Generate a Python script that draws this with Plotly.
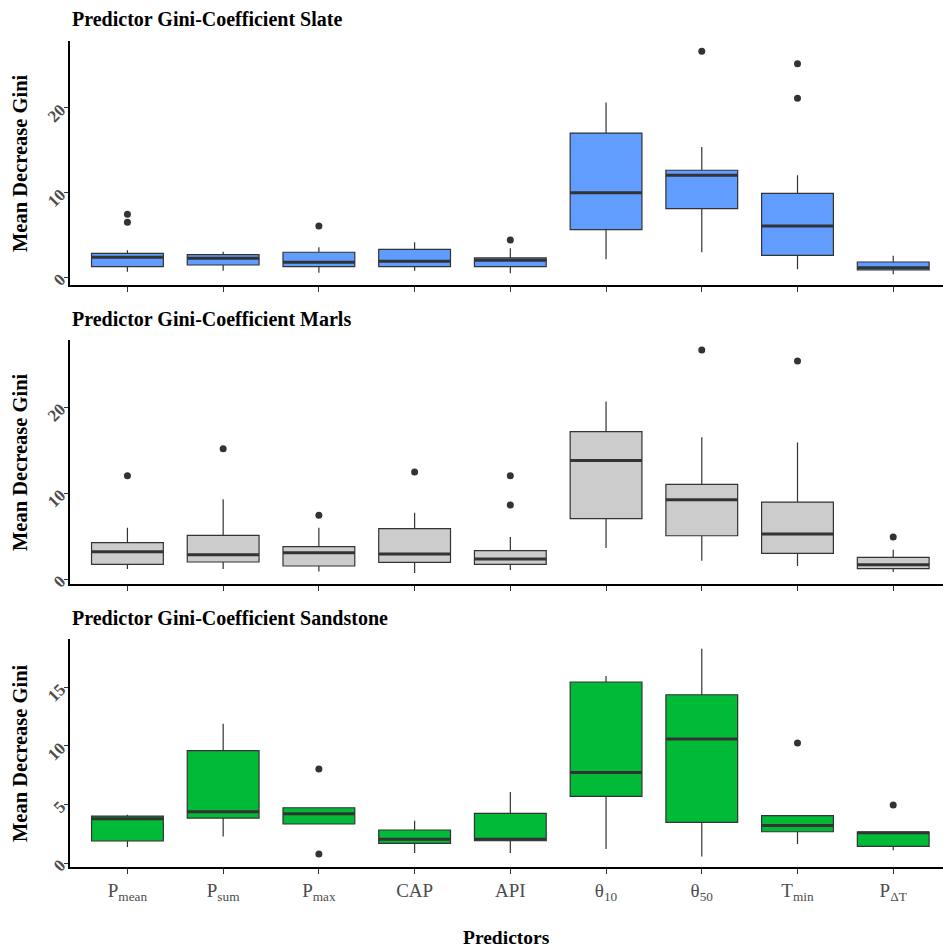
import plotly.graph_objects as go

# ---------------- data ----------------
categories = ["P<sub>mean</sub>", "P<sub>sum</sub>", "P<sub>max</sub>", "CAP", "API",
              "θ<sub>10</sub>", "θ<sub>50</sub>", "T<sub>min</sub>", "P<sub>ΔT</sub>"]

slate_low = [0.66, 0.78, 0.54, 0.78, 0.47, 2.12, 2.95, 0.94, 0.35]
slate_q1 = [1.25, 1.45, 1.25, 1.25, 1.25, 5.61, 8.09, 2.59, 0.86]
slate_med = [2.36, 2.24, 1.77, 1.89, 2.00, 9.98, 12.03, 6.05, 1.13]
slate_q3 = [2.83, 2.67, 2.95, 3.30, 2.28, 17.0, 12.62, 9.90, 1.80]
slate_high = [3.20, 3.00, 3.54, 4.13, 3.42, 20.6, 15.37, 12.03, 2.55]
slate_out_idx = [0, 0, 2, 4, 6, 7, 7]
slate_out_val = [7.43, 6.49, 6.05, 4.40, 26.65, 25.19, 21.10]

marls_low = [1.16, 1.16, 0.88, 0.70, 1.05, 3.60, 2.13, 1.51, 0.81]
marls_q1 = [1.70, 1.98, 1.51, 1.93, 1.70, 7.01, 5.03, 2.98, 1.20]
marls_med = [3.17, 2.83, 3.06, 2.90, 2.33, 13.79, 9.22, 5.23, 1.66]
marls_q3 = [4.22, 5.07, 3.76, 5.85, 3.29, 17.13, 11.0, 8.95, 2.51]
marls_high = [5.97, 9.26, 5.97, 7.71, 4.88, 20.65, 16.47, 15.88, 3.41]
marls_out_idx = [0, 1, 2, 3, 4, 4, 6, 7, 8]
marls_out_val = [12.01, 15.15, 7.40, 12.44, 12.01, 8.60, 26.63, 25.35, 4.88]

sand_low = [1.37, 2.27, 3.33, 0.85, 0.85, 1.20, 0.56, 1.62, 1.08]
sand_q1 = [1.88, 3.84, 3.33, 1.68, 1.90, 5.69, 3.47, 2.67, 1.42]
sand_med = [3.78, 4.38, 4.21, 2.02, 2.02, 7.74, 10.59, 3.21, 2.59]
sand_q3 = [4.01, 9.59, 4.72, 2.82, 4.24, 15.46, 14.37, 4.04, 2.65]
sand_high = [4.12, 11.90, 4.72, 3.61, 6.06, 15.97, 18.30, 4.04, 2.65]
sand_out_idx = [2, 2, 7, 8]
sand_out_val = [8.03, 0.77, 10.25, 4.95]

panel_titles = ["Predictor Gini-Coefficient Slate",
                "Predictor Gini-Coefficient Marls",
                "Predictor Gini-Coefficient Sandstone"]
fills = ["#619CFF", "#CCCCCC", "#00BA38"]
y_ranges = [[-0.91, 27.86], [-0.58, 27.79], [-0.34, 19.13]]
y_ticks = [[0, 10, 20], [0, 10, 20], [0, 5, 10, 15]]

panels = [
    (slate_low, slate_q1, slate_med, slate_q3, slate_high, slate_out_idx, slate_out_val),
    (marls_low, marls_q1, marls_med, marls_q3, marls_high, marls_out_idx, marls_out_val),
    (sand_low, sand_q1, sand_med, sand_q3, sand_high, sand_out_idx, sand_out_val),
]

# ---------------- layout geometry ----------------
W, H = 943, 951
M_L, M_R, M_T, M_B = 70, 0, 41, 84
ph = H - M_T - M_B


def py2paper(py):
    return 1 - (py - M_T) / ph


domains = [[py2paper(285), py2paper(41)],
           [py2paper(584), py2paper(340)],
           [py2paper(867), py2paper(639)]]
title_py = [19, 319, 618]

BOX_W = 0.75
xpos = list(range(len(categories)))
serif = "Liberation Serif, Times New Roman, serif"
dark = "#333333"

fig = go.Figure()
annotations = []
for i, (low, q1, med, q3, high, oidx, oval) in enumerate(panels):
    xa = "x" if i == 0 else f"x{i+1}"
    ya = "y" if i == 0 else f"y{i+1}"
    fig.add_trace(go.Box(
        x=xpos, lowerfence=low, q1=q1, median=med, q3=q3, upperfence=high,
        width=BOX_W, whiskerwidth=0, fillcolor=fills[i],
        line=dict(color=dark, width=1.2), boxpoints=False,
        xaxis=xa, yaxis=ya, showlegend=False, hoverinfo="skip"))
    # thick median segments
    mx, my = [], []
    for k, m in enumerate(med):
        mx += [k - BOX_W / 2, k + BOX_W / 2, None]
        my += [m, m, None]
    fig.add_trace(go.Scatter(x=mx, y=my, mode="lines",
                             line=dict(color=dark, width=3),
                             xaxis=xa, yaxis=ya, showlegend=False, hoverinfo="skip"))
    # outliers
    fig.add_trace(go.Scatter(x=oidx, y=oval, mode="markers",
                             marker=dict(color=dark, size=7),
                             xaxis=xa, yaxis=ya, showlegend=False, hoverinfo="skip"))

    xkey = "xaxis" if i == 0 else f"xaxis{i+1}"
    ykey = "yaxis" if i == 0 else f"yaxis{i+1}"
    fig.layout[xkey] = dict(
        domain=[0, 1], anchor=ya, range=[-0.6, 8.52],
        tickmode="array", tickvals=xpos, ticktext=categories,
        showticklabels=(i == 2),
        ticks="outside", ticklen=5, tickwidth=1, tickcolor=dark,
        showline=True, linecolor="black", linewidth=2,
        showgrid=False, zeroline=False,
        tickfont=dict(family=serif, size=19, color="#4D4D4D"))
    fig.layout[ykey] = dict(
        domain=domains[i], anchor=xa, range=y_ranges[i],
        tickmode="array", tickvals=y_ticks[i],
        ticks="outside", ticklen=4, tickwidth=1, tickcolor=dark,
        tickangle=-45,
        showline=True, linecolor="black", linewidth=2,
        showgrid=False, zeroline=False,
        tickfont=dict(family=serif, size=17, color="#4D4D4D", weight="bold"))

    annotations.append(dict(
        text="<b>" + panel_titles[i] + "</b>", xref="paper", yref="paper",
        x=0, xshift=0, y=py2paper(title_py[i]), xanchor="left", yanchor="middle",
        showarrow=False, font=dict(family=serif, size=20, color="black")))
    annotations.append(dict(
        text="<b>Mean Decrease Gini</b>", xref="paper", yref="paper",
        x=0, xshift=-50, y=sum(domains[i]) / 2, xanchor="center", yanchor="middle",
        textangle=-90, showarrow=False,
        font=dict(family=serif, size=20.5, color="black")))

annotations.append(dict(
    text="<b>Predictors</b>", xref="paper", yref="paper",
    x=0.5, y=py2paper(938), xanchor="center", yanchor="middle",
    showarrow=False, font=dict(family=serif, size=19.5, color="black")))

fig.update_layout(
    width=W, height=H,
    margin=dict(l=M_L, r=M_R, t=M_T, b=M_B, autoexpand=False),
    paper_bgcolor="white", plot_bgcolor="white",
    annotations=annotations, showlegend=False)

fig.write_html("out.html")
